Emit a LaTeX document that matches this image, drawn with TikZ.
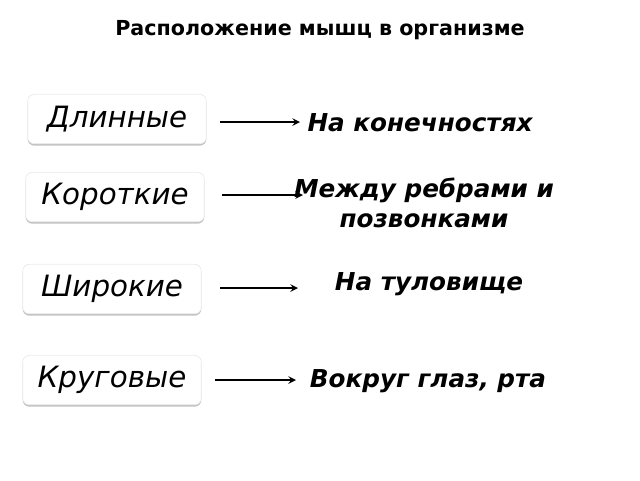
\documentclass[tikz,border=0pt]{standalone}
\usepackage{fontspec}
\setmainfont{DejaVu Sans}
\usetikzlibrary{shadows}
\begin{document}
\begin{tikzpicture}[x=0.75pt, y=-0.75pt,
                    line width=1.5pt,
                    ]
    \tikzstyle{kind}=[rounded corners=5pt, fill=white, draw=gray!15, line width=0.6pt,
                      minimum width=134pt, minimum height=37pt,
                      drop shadow={shadow xshift=0pt, shadow yshift=-1.5pt, fill=gray!60, opacity=0.8},
                      font=\itshape\fontsize{22}{24}\selectfont];
    \tikzstyle{place}=[align=center, font=\bfseries\itshape\fontsize{18.5}{22}\selectfont];
    \tikzstyle{link}=[draw, ->, >=stealth, line width=1.5pt];

    \useasboundingbox (0,0) rectangle (640,480);

    \node[font=\bfseries\fontsize{15.5}{18}\selectfont] (title) at (320,30) {Расположение мышц в организме};

    \node[kind] (long) at (117,119) {Длинные};
    \node[kind] (short) at (115,197) {Короткие};
    \node[kind] (wide) at (112,289) {Широкие};
    \node[kind] (round) at (112,380) {Круговые};

    \node[place] (limbs) at (420,123) {На конечностях};
    \node[place] (ribs) at (424,203) {Между ребрами и\\позвонками};
    \node[place] (trunk) at (429,284) {На туловище};
    \node[place] (eyes) at (428,381) {Вокруг глаз, рта};

    \coordinate (s1) at (220,122); \coordinate (a1) at (300,122);
    \coordinate (s2) at (222,195); \coordinate (a2) at (303,195);
    \coordinate (s3) at (220,288); \coordinate (a3) at (298,288);
    \coordinate (s4) at (215,380); \coordinate (a4) at (296,380);

    \path[link] (s1) -- (a1);
    \path[link] (s2) -- (a2);
    \path[link] (s3) -- (a3);
    \path[link] (s4) -- (a4);
\end{tikzpicture}
\end{document}
